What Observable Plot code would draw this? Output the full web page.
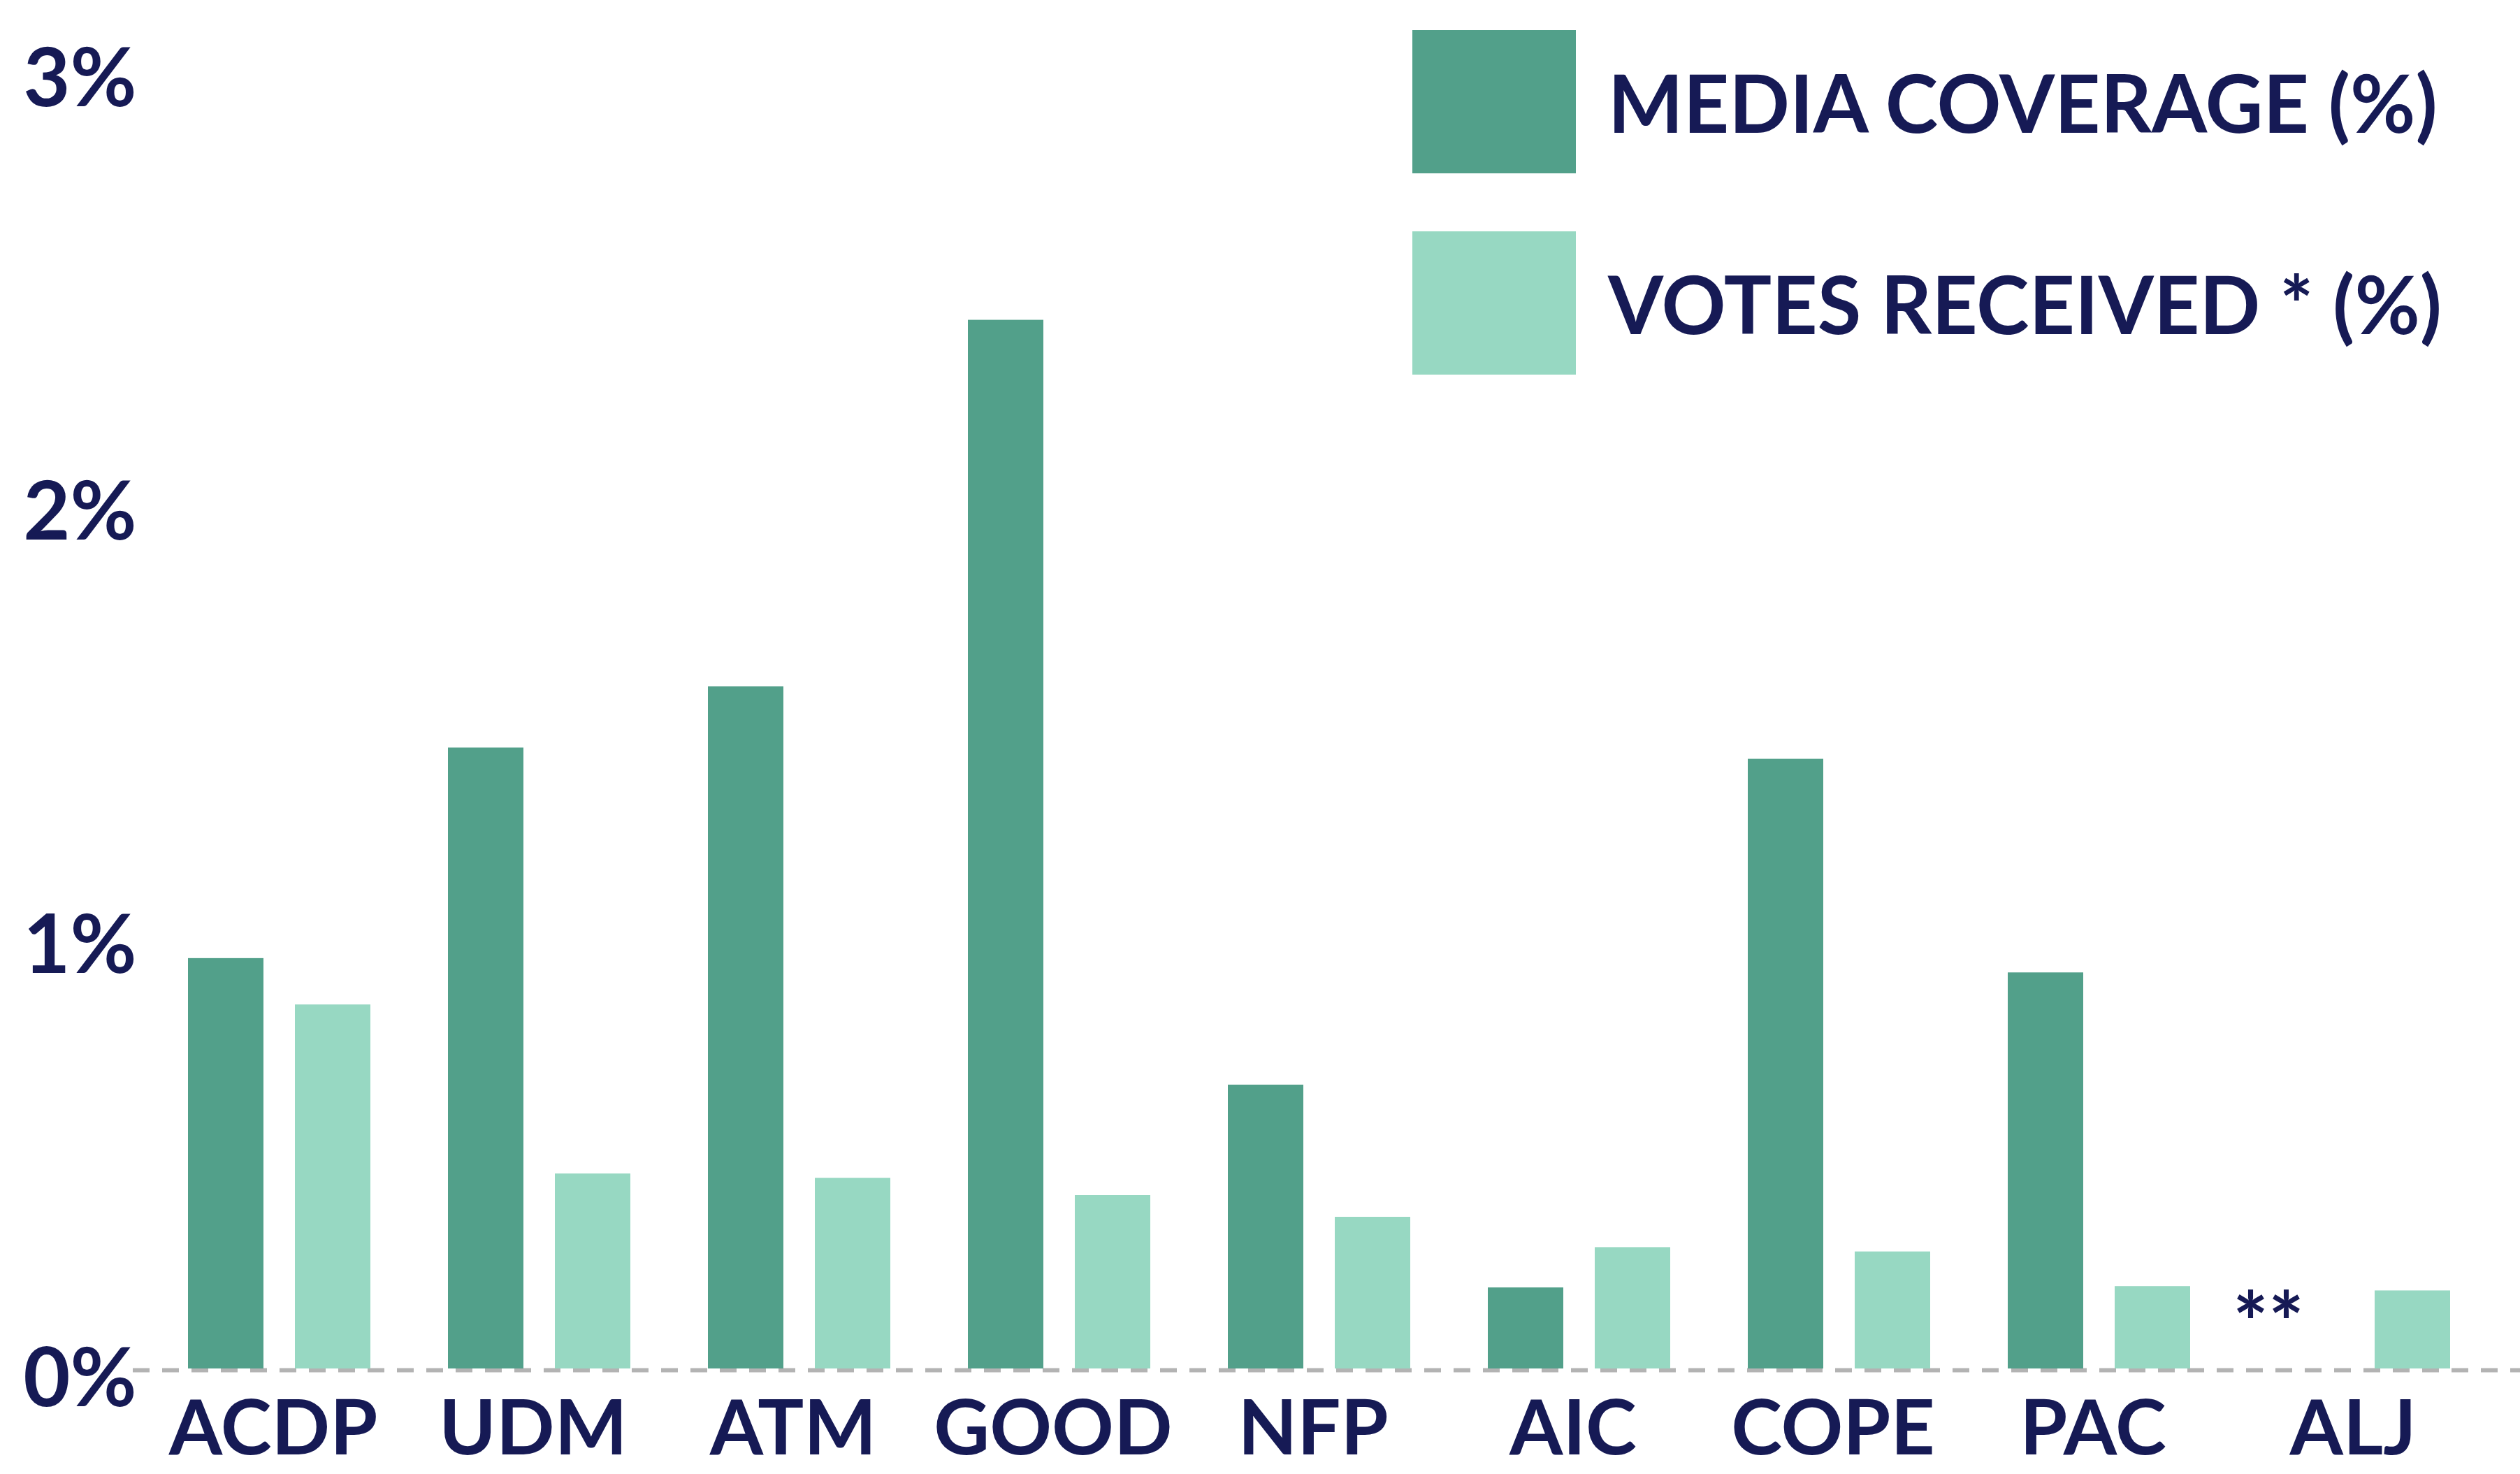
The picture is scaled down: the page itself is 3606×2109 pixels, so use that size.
<!DOCTYPE html>
<html><head><meta charset="utf-8">
<script src="https://cdn.jsdelivr.net/npm/d3@7"></script>
<script src="https://cdn.jsdelivr.net/npm/@observablehq/plot@0.6"></script>
<style>
html,body{margin:0;padding:0;background:#fff;}
#wrap{position:relative;width:3606px;height:2109px;font-family:Lato,sans-serif;}
#legend{position:absolute;left:2021px;top:43px;}
.item{display:flex;align-items:center;height:205px;margin-bottom:83px}
.sw{width:234px;height:205px;flex:none}
.lab{margin-left:46px;font-size:114px;font-weight:700;color:#161a55;white-space:nowrap;line-height:1}
</style></head>
<body><div id="wrap"><div id="chart"></div><div id="legend"></div></div>
<script>
const parties = ["ACDP","UDM","ATM","GOOD","NFP","AIC","COPE","PAC","ALJ"];
const mediaCoverage = [0.947,1.433,1.574,2.42,0.655,0.187,1.407,0.914,null];
const votesReceived = [0.84,0.45,0.44,0.40,0.35,0.28,0.27,0.19,0.18];
const seriesNames = ["MEDIA COVERAGE (%)","VOTES RECEIVED * (%)"];
const seriesColors = ["#52a08a","#97d8c2"];
const yTicks = [0,1,2,3];
const missingNote = "**";

const rows = parties.map((p,i)=>({party:p, media:mediaCoverage[i], votes:votesReceived[i]}));
const missing = rows.filter(r=>r.media==null);
const ink = "#161a55";

const chart = Plot.plot({
  width:3606, height:2109,
  marginLeft:190, marginRight:0, marginTop:98, marginBottom:151,
  style:{fontFamily:"Lato, sans-serif", fontWeight:700, fontSize:"116px", color:ink, background:"#fff"},
  x:{type:"band", domain:parties, range:[268.6,3505.6], paddingInner:0.2984, paddingOuter:0, label:null},
  y:{domain:[0,3], label:null},
  marks:[
    Plot.ruleY([0], {stroke:"#b3b3b3", strokeWidth:6, strokeDasharray:"24,18", dy:2}),
    Plot.barY(rows.filter(r=>r.media!=null), {x:"party", y:"media", fill:seriesColors[0], insetRight:153}),
    Plot.barY(rows, {x:"party", y:"votes", fill:seriesColors[1], insetLeft:153}),
    Plot.text(missing, {x:"party", y:()=>0, text:()=>missingNote, dx:-130, dy:-60, fontSize:120, fill:ink, lineAnchor:"middle"}),
    Plot.axisX({tickSize:0, tickPadding:44, dx:-9, fontSize:110, label:null}),
    Plot.axisY({ticks:yTicks, tickSize:0, tickPadding:0, dx:5, dy:16, fontSize:116, tickFormat:d=>d+"%", label:null})
  ]
});
document.getElementById("chart").appendChild(chart);

const leg = document.getElementById("legend");
seriesNames.forEach((n,i)=>{
  const it = document.createElement("div"); it.className="item";
  const sw = document.createElement("div"); sw.className="sw"; sw.style.background=seriesColors[i];
  const lb = document.createElement("div"); lb.className="lab"; lb.textContent=n;
  it.appendChild(sw); it.appendChild(lb); leg.appendChild(it);
});
</script></body></html>
